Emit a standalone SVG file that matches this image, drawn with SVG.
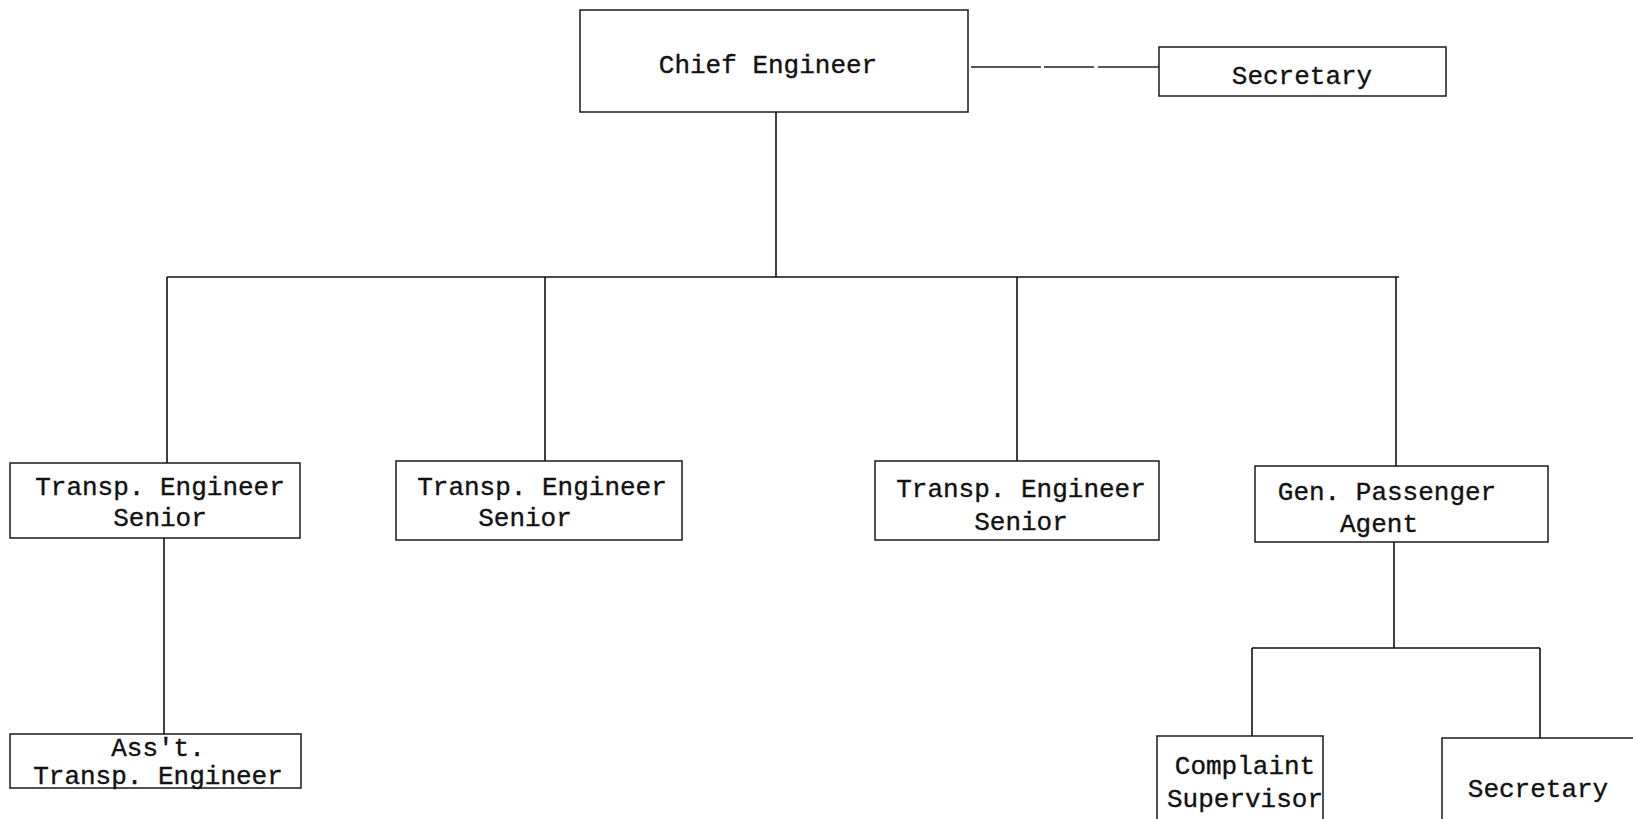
<svg xmlns="http://www.w3.org/2000/svg" width="1633" height="819" viewBox="0 0 1633 819">
<style>
.box{fill:none;stroke:#1a1a1a;stroke-width:1.5}
.t{font-family:"Liberation Mono","DejaVu Sans Mono",monospace;font-size:26px;fill:#111;stroke:#111;stroke-width:0.35;text-anchor:middle}
.c{fill:none;stroke:#111;stroke-width:1.6}
.d{fill:none;stroke:#222;stroke-width:1.3;stroke-dasharray:70 3 50 4}
</style>
<rect width="1633" height="819" fill="#fff"/>
<g id="connectors">
<path class="d" d="M971 67H1159"/>
<path class="c" d="M776 112V277M167 277H1399M167 277V463M545 277V461M1017 277V461M1396 277V466"/>
<path class="c" d="M164 538V734"/>
<path class="c" d="M1394 542V648M1252 648H1540M1252 648V736M1540 648V738"/>
</g>
<g id="chief"><rect class="box" x="580" y="10" width="388" height="102"/><text class="t" x="768" y="73">Chief Engineer</text></g>
<g id="secretary1"><rect class="box" x="1159" y="47" width="287" height="49"/><text class="t" x="1302" y="84">Secretary</text></g>
<g id="tes1"><rect class="box" x="10" y="463" width="290" height="75"/><text class="t" x="160" y="495">Transp. Engineer</text><text class="t" x="160" y="526">Senior</text></g>
<g id="tes2"><rect class="box" x="396" y="461" width="286" height="79"/><text class="t" x="542" y="495">Transp. Engineer</text><text class="t" x="525" y="526">Senior</text></g>
<g id="tes3"><rect class="box" x="875" y="461" width="284" height="79"/><text class="t" x="1021" y="497">Transp. Engineer</text><text class="t" x="1021" y="530">Senior</text></g>
<g id="gpa"><rect class="box" x="1255" y="466" width="293" height="76"/><text class="t" x="1387" y="500">Gen. Passenger</text><text class="t" x="1379" y="532">Agent</text></g>
<g id="asst"><rect class="box" x="10" y="734" width="291" height="54"/><text class="t" x="158" y="756">Ass't.</text><text class="t" x="158" y="784">Transp. Engineer</text></g>
<g id="complaint"><rect class="box" x="1157" y="736" width="166" height="90"/><text class="t" x="1245" y="774">Complaint</text><text class="t" x="1245" y="807">Supervisor</text></g>
<g id="secretary2"><rect class="box" x="1442" y="738" width="210" height="90"/><text class="t" x="1538" y="797">Secretary</text></g>
</svg>
